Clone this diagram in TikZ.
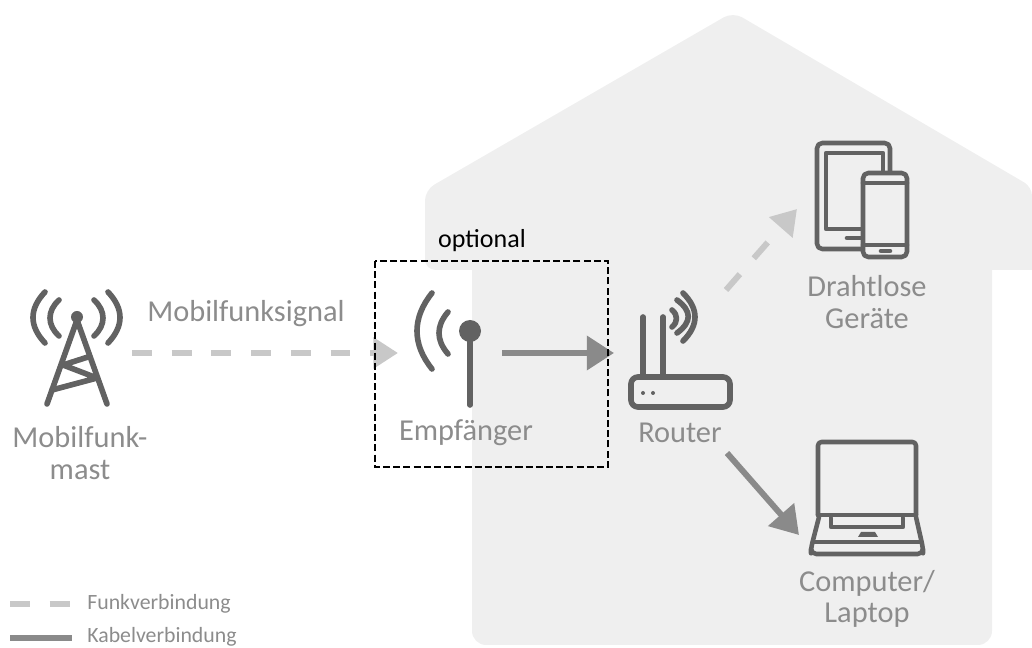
\documentclass[tikz,border=0pt]{standalone}
\usepackage{fontspec}
\setmainfont{Carlito}
\usetikzlibrary{arrows.meta, positioning}
\definecolor{housegray}{HTML}{EFEFEF}
\definecolor{icongray}{HTML}{626262}
\definecolor{textgray}{HTML}{8C8C8C}
\definecolor{funkgray}{HTML}{C8C8C8}
\definecolor{kabelgray}{HTML}{8A8A8A}

\begin{document}
\begin{tikzpicture}[x=0.02cm,y=-0.02cm]
    \tikzstyle{label}=[text=textgray, align=center, inner sep=0pt, font=\fontsize{17.3}{18}\selectfont]
    \tikzstyle{legend}=[text=textgray, anchor=west, inner sep=0pt, font=\fontsize{12.4}{15}\selectfont]
    \tikzstyle{icon}=[draw=icongray, line width=3.2pt, line cap=round, line join=round]
    \tikzstyle{thin icon}=[draw=icongray, line width=2.6pt, line cap=round, line join=round]
    \tikzstyle{funk}=[draw=funkgray, line width=3.4pt, dash pattern=on 11.3pt off 11.3pt, -{Triangle[length=14pt,width=17pt,fill=funkgray]}]
    \tikzstyle{kabel}=[draw=kabelgray, line width=3.4pt, -{Triangle[length=15.5pt,width=19pt,fill=kabelgray]}]

    \useasboundingbox (0,0) rectangle (1032,648);

    % house
    \fill[housegray, rounded corners=5pt] (733,12) -- (1032,187) [sharp corners] -- (1032,270) -- (992,270)
        [rounded corners=8pt] -- (992,645) -- (472,645) [sharp corners] -- (472,270) [rounded corners=6pt] -- (425,270) -- (425,190) -- cycle;

    % mast
    \fill[icongray] (77,317) circle (6);
    \draw[icon] (47,404) -- (77,320) -- (107,404);
    \draw[icon] (52,390) -- (97,378) -- (63,365) -- (88,357);
    \draw[icon] (45,292) .. controls (29,309) and (29,326) .. (45,343);
    \draw[icon] (59,300) .. controls (47,311) and (47,325) .. (59,336);
    \draw[icon] (108,292) .. controls (124,309) and (124,326) .. (108,343);
    \draw[icon] (94,300) .. controls (106,311) and (106,325) .. (94,336);

    % receiver
    \fill[icongray] (470,331) circle (11);
    \draw[icon] (470,335) -- (470,405);
    \draw[icon] (432,293) .. controls (412,318) and (412,344) .. (432,369);
    \draw[icon] (448,312) .. controls (436,326) and (436,340) .. (448,354);

    % router
    \draw[icon, rounded corners=4pt] (631,377) rectangle (730,407);
    \draw[icon] (643,317) -- (643,377);
    \draw[icon] (663,317) -- (663,377);
    \fill[icongray] (643,393) circle (2) (653,393) circle (2);
    \draw[icon] (672,310) .. controls (678,315) and (678,322) .. (672,327);
    \draw[icon] (677,300) .. controls (692,311) and (692,322) .. (677,333);
    \draw[icon] (683,293) .. controls (699,309) and (699,325) .. (683,341);

    % tablet and phone
    \draw[thin icon, rounded corners=3pt] (817,143) rectangle (890,249);
    \draw[thin icon] (826,153) rectangle (883,229);
    \draw[thin icon] (847,238) -- (862,238);
    \draw[thin icon, fill=housegray, rounded corners=3pt] (863,173) rectangle (907,257);
    \draw[thin icon] (863,183) -- (907,183);
    \draw[thin icon] (863,245) -- (907,245);
    \draw[thin icon] (881,251) -- (890,251);

    % laptop
    \draw[thin icon, rounded corners=2pt] (818,515) -- (818,442) -- (916,442) -- (916,515);
    \draw[thin icon] (818,515) -- (916,515);
    \draw[thin icon, rounded corners=3pt] (819,517) -- (811,548) -- (811,554) -- (923,554) -- (923,548) -- (916,517);
    \draw[thin icon] (813,542) -- (921,542);
    \draw[thin icon] (831,518) -- (831,527) -- (903,527) -- (903,518);
    \fill[icongray] (858,537) -- (861,532) -- (875,532) -- (878,537) -- cycle;

    % labels
    \node[label] (signal) at (246,314) {Mobilfunksignal};
    \node[label] (mast) at (80,453) {Mobilfunk-\\mast};
    \node[label] (empf) at (466,433) {Empfänger};
    \node[label] (router) at (680,433) {Router};
    \node[label] (wireless) at (867,302) {Drahtlose\\Geräte};
    \node[label] (computer) at (867,599) {Computer/\\Laptop};
    \node[inner sep=0pt, font=\fontsize{14.8}{15}\selectfont] (optional) at (482,241) {optional};

    % connections
    \coordinate (mast-out) at (132,353);
    \coordinate (empf-in) at (398,353);
    \coordinate (empf-out) at (502,353);
    \coordinate (router-in) at (614,353);
    \coordinate (router-funk) at (726,290);
    \coordinate (wireless-in) at (797,209);
    \coordinate (router-kabel) at (727,453);
    \coordinate (computer-in) at (799,535);
    \draw[funk] (mast-out) -- (empf-in);
    \draw[kabel] (empf-out) -- (router-in);
    \draw[funk, dash pattern=on 12pt off 12pt] (router-funk) -- (wireless-in);
    \draw[kabel] (router-kabel) -- (computer-in);

    % optional box
    \draw[black, line width=1.6pt, dash pattern=on 4pt off 1.8pt] (375,261) rectangle (608,467);

    % legend
    \coordinate (funk-a) at (10,604);
    \coordinate (funk-b) at (70,604);
    \coordinate (kabel-a) at (10,638);
    \coordinate (kabel-b) at (72,638);
    \draw[draw=funkgray, line width=3.4pt, dash pattern=on 11.3pt off 11.3pt] (funk-a) -- (funk-b);
    \draw[draw=kabelgray, line width=3.4pt] (kabel-a) -- (kabel-b);
    \node[legend] (funk-text) at (87,604) {Funkverbindung};
    \node[legend] (kabel-text) at (87,637) {Kabelverbindung};
\end{tikzpicture}
\end{document}
